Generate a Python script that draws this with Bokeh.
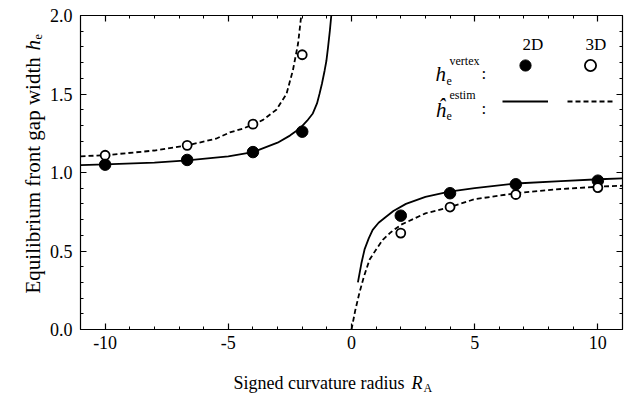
import math
from bokeh.plotting import figure
from bokeh.models import (LinearAxis, SingleIntervalTicker, PrintfTickFormatter,
                          Legend, LegendItem, Range1d)
from bokeh.core.properties import value
from bokeh.embed import file_html
from bokeh.resources import INLINE

# ---------------- data ----------------
R_vertex = [-10, -6.67, -4, -2, 2, 4, 6.67, 10]
h_vertex_2d = [1.05, 1.08, 1.13, 1.26, 0.725, 0.868, 0.925, 0.948]
h_vertex_3d = [1.11, 1.173, 1.308, 1.75, 0.614, 0.78, 0.86, 0.904]

R_estim_2d_neg = [-11, -10, -8, -6.67, -5, -4, -3, -2.5, -2.1, -1.8, -1.57, -1.4,
                  -1.3, -1.2, -1.09, -1.02, -0.95, -0.88, -0.82]
h_estim_2d_neg = [1.047, 1.052, 1.063, 1.077, 1.103, 1.13, 1.19, 1.235, 1.28, 1.33,
                  1.376, 1.44, 1.50, 1.565, 1.65, 1.71, 1.80, 1.90, 2.0]
R_estim_2d_pos = [0.26, 0.4, 0.53, 0.7, 0.86, 1.1, 1.34, 1.7, 2.21, 3.0, 3.97, 5.0,
                  6.67, 8.5, 10.04, 11]
h_estim_2d_pos = [0.30, 0.42, 0.51, 0.58, 0.635, 0.68, 0.71, 0.755, 0.80, 0.845,
                  0.878, 0.90, 0.93, 0.945, 0.957, 0.963]
R_estim_3d_neg = [-11, -10, -8, -6.67, -5.5, -4.94, -4.4, -4, -3.59, -3.05, -2.64,
                  -2.38, -2.17, -2.04]
h_estim_3d_neg = [1.103, 1.11, 1.14, 1.173, 1.215, 1.255, 1.28, 1.305, 1.335, 1.40,
                  1.50, 1.65, 1.82, 2.0]
R_estim_3d_pos = [0.0, 0.15, 0.32, 0.5, 0.73, 1.0, 1.27, 1.6, 2.01, 3.0, 3.97, 5.0,
                  6.67, 8.5, 10.04, 11]
h_estim_3d_pos = [0.0, 0.12, 0.233, 0.335, 0.444, 0.51, 0.571, 0.62, 0.667, 0.74,
                  0.779, 0.83, 0.868, 0.895, 0.91, 0.916]

x_tick_interval = 5
y_tick_interval = 0.5
X_LIM = (-11, 11)
Y_LIM = (0, 2)

# ---------------- layout (pixels) ----------------
W, H = 624, 394
BOX_L, BOX_R, BOX_T, BOX_B = 80, 622, 15, 329      # plot box inside the canvas
PX_X = (BOX_R - BOX_L) / (X_LIM[1] - X_LIM[0])
PX_Y = (BOX_B - BOX_T) / (Y_LIM[1] - Y_LIM[0])
x_range = Range1d(X_LIM[0] - BOX_L / PX_X, X_LIM[1] + (W - BOX_R) / PX_X)
y_range = Range1d(Y_LIM[0] - (H - BOX_B) / PX_Y, Y_LIM[1] + BOX_T / PX_Y)
SERIF = "Liberation Serif"


def dx(px):
    return x_range.start + px / PX_X


def dy(py):
    return y_range.end - py / PX_Y


p = figure(width=W, height=H, output_backend="svg", toolbar_location=None,
           x_range=x_range, y_range=y_range, min_border=0,
           x_axis_location=None, y_axis_location=None)
p.xgrid.visible = False
p.ygrid.visible = False
p.outline_line_color = None
p.background_fill_color = "white"
p.border_fill_color = "white"


def make_axis(ticker, loc, bounds, fmt=None, standoff=0):
    ax = LinearAxis(ticker=ticker, fixed_location=loc, bounds=bounds)
    if fmt is not None:
        ax.formatter = PrintfTickFormatter(format=fmt)
        ax.major_label_text_font = SERIF
        ax.major_label_text_font_size = "18px"
        ax.major_label_text_color = "black"
        ax.major_label_standoff = standoff
    else:
        ax.major_label_text_color = None
    ax.axis_line_color = "black"
    ax.axis_line_width = 1.2
    ax.major_tick_in = 6
    ax.major_tick_out = 0
    ax.minor_tick_in = 3
    ax.minor_tick_out = 0
    ax.major_tick_line_color = "black"
    ax.minor_tick_line_color = "black"
    ax.major_tick_line_width = 1.2
    ax.minor_tick_line_width = 1.0
    return ax


xt = SingleIntervalTicker(interval=x_tick_interval, num_minor_ticks=5)
yt = SingleIntervalTicker(interval=y_tick_interval, num_minor_ticks=5)
p.add_layout(make_axis(xt, Y_LIM[0], X_LIM, "%d", 6), "below")
p.add_layout(make_axis(xt, Y_LIM[1], X_LIM), "above")
p.add_layout(make_axis(yt, X_LIM[0], Y_LIM, "%.1f", 8), "left")
p.add_layout(make_axis(yt, X_LIM[1], Y_LIM), "right")

nan = float("nan")
x2 = R_estim_2d_neg + [nan] + R_estim_2d_pos
y2 = h_estim_2d_neg + [nan] + h_estim_2d_pos
x3 = R_estim_3d_neg + [nan] + R_estim_3d_pos
y3 = h_estim_3d_neg + [nan] + h_estim_3d_pos

r_line2 = p.line(x2, y2, line_color="black", line_width=1.8)
r_line3 = p.line(x3, y3, line_color="black", line_width=1.8, line_dash="5 3")
r_pts2 = p.scatter(R_vertex, h_vertex_2d, marker="circle", size=11.5,
                   fill_color="black", line_color="black")
r_pts3 = p.scatter(R_vertex, h_vertex_3d, marker="circle", size=9,
                   fill_color="white", line_color="black", line_width=1.8)

# ---------------- legend (two rows, two columns) ----------------
leg_common = dict(orientation="horizontal", glyph_width=46, glyph_height=28,
                  label_width=19, label_height=20, label_standoff=0, spacing=0,
                  padding=0, margin=0, border_line_alpha=0,
                  background_fill_alpha=0, label_text_color=None)
leg1 = Legend(items=[LegendItem(label=" ", renderers=[r_pts2]),
                     LegendItem(label=" ", renderers=[r_pts3])],
              location=(502, H - 79), **leg_common)
leg2 = Legend(items=[LegendItem(label=" ", renderers=[r_line2]),
                     LegendItem(label=" ", renderers=[r_line3])],
              location=(502, H - 115), **leg_common)
p.add_layout(leg1)
p.add_layout(leg2)


def lab(text, px, py, size, style="normal", align="left", angle=0.0):
    p.text(x=[dx(px)], y=[dy(py)], text=[text], text_font=value(SERIF),
           text_font_size=value(size), text_font_style=style, text_align=align,
           text_baseline="alphabetic", text_color="black", angle=angle)


lab("2D", 532.5, 44, "17px", align="center")
lab("3D", 595.5, 44, "17px", align="center")
lab("h", 435, 73, "21px", style="italic")
lab("vertex", 449, 60, "12px")
lab("e", 446, 80, "12px")
lab(":", 481, 73, "17px")
lab("\u0125", 435, 109, "21px", style="italic")
lab("estim", 449, 94, "12px")
lab("e", 446, 115, "12px")
lab(":", 481, 108, "17px")

# axis titles
lab("Signed curvature radius", 233, 382, "18px")
lab("R", 411, 382, "18px", style="italic")
lab("A", 423, 387, "12px")

lab("Equilibrium front gap width", 32, 293, "21px", angle=math.pi / 2)
lab("h", 32, 50, "21px", style="italic", angle=math.pi / 2)
lab("e", 37, 39, "12px", angle=math.pi / 2)

open("out.html", "w").write(file_html(p, INLINE))
